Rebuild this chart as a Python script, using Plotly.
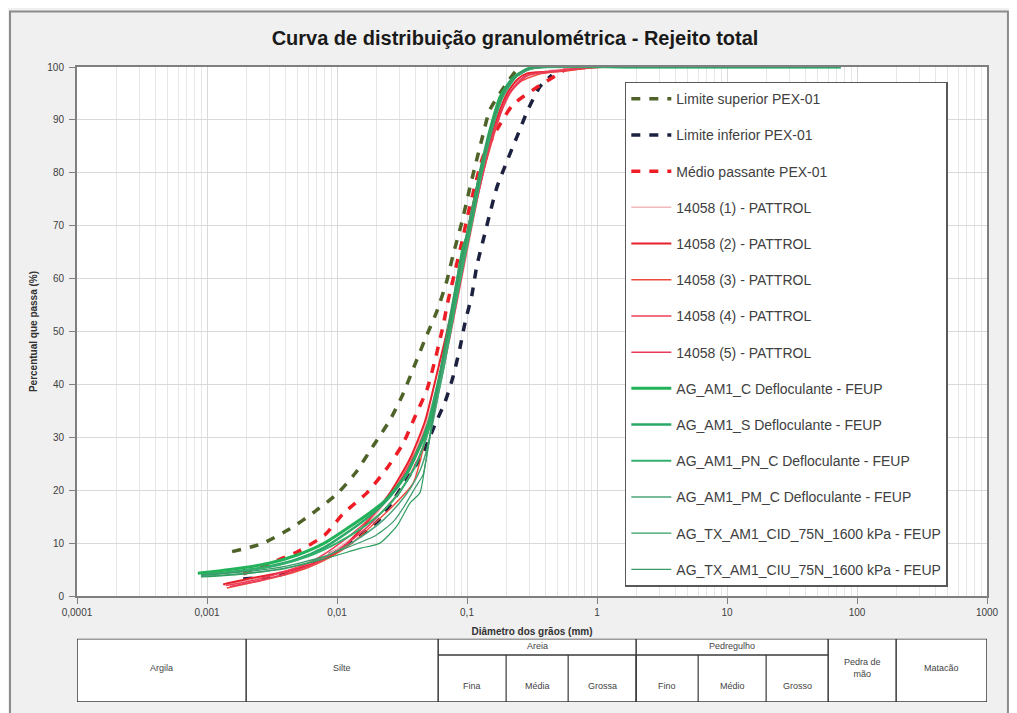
import math
import plotly.graph_objects as go

# ---------------- data ----------------
# PEX-01 limits (diameter mm, % passing)
sup_d = [0.00156, 0.00265, 0.00435, 0.00653, 0.01, 0.0138, 0.0189, 0.0256, 0.0322, 0.0398, 0.0475,
         0.0588, 0.070, 0.078, 0.0916, 0.1018, 0.115, 0.130, 0.150, 0.203, 0.25]
sup_p = [8.4, 9.9, 12.7, 15.7, 19.3, 23.2, 28.3, 33.3, 38.2, 43.8, 48.5,
         53.9, 59.6, 64.4, 70.8, 75.7, 81.1, 86.3, 91.9, 97.0, 100]

inf_d = [0.0019, 0.0038, 0.0093, 0.0143, 0.0214, 0.0365, 0.0459, 0.0567, 0.0678, 0.078, 0.0884, 0.0966,
         0.109, 0.119, 0.133, 0.150, 0.170, 0.203, 0.243, 0.294, 0.365, 0.45]
inf_p = [3.2, 4.1, 8.2, 10.9, 14.6, 23.0, 27.0, 32.4, 36.7, 41.4, 47.0, 51.7,
         56.9, 62.4, 67.2, 72.3, 77.3, 82.2, 86.9, 91.9, 96.3, 98.5]

med_d = [0.0019, 0.005, 0.0081, 0.0111, 0.017, 0.0243, 0.0322, 0.0398, 0.0492, 0.0567, 0.0643, 0.0715,
         0.0809, 0.0916, 0.102, 0.115, 0.133, 0.179, 0.226, 0.352, 0.52, 0.6]
med_p = [4.2, 8.4, 11.6, 15.5, 19.5, 24.2, 28.8, 33.9, 39.0, 44.6, 50.2, 55.8,
         61.4, 67.0, 72.3, 77.5, 83.1, 89.1, 92.9, 96.3, 98.9, 100]

# PATTROL samples
r1_d = [0.00135, 0.0022, 0.0035, 0.0055, 0.0085, 0.013, 0.02, 0.03, 0.042, 0.055, 0.075, 0.1, 0.125, 0.15,
        0.18, 0.25, 0.42, 0.6, 1.2, 2]
r1_p = [2.0, 3.2, 4.4, 5.8, 7.8, 11, 15.5, 21.5, 28.5, 37, 50, 65, 77, 85, 91, 97.5, 99.3, 99.6, 100, 100]
r2_d = [0.00133, 0.00222, 0.00352, 0.00538, 0.0081, 0.0109, 0.0158, 0.0256, 0.0365, 0.0475, 0.06, 0.075,
        0.09, 0.111, 0.1426, 0.1713, 0.203, 0.243, 0.29, 0.52, 1.0, 2.0]
r2_p = [2.2, 3.4, 4.3, 5.4, 7.1, 9.0, 13, 19.5, 26, 33, 43, 53, 62, 74, 84, 90.5, 95, 97.6, 98.8, 99.2, 100, 100]
r3_d = [0.00142, 0.0025, 0.004, 0.006, 0.009, 0.013, 0.0256, 0.0385, 0.0459, 0.055, 0.07, 0.09, 0.11, 0.14,
        0.17, 0.2, 0.25, 0.35, 0.6, 1.2, 2]
r3_p = [1.5, 2.8, 4.0, 5.4, 7.4, 10, 16.5, 21.3, 27.7, 36, 48, 62, 72, 82, 89, 94, 97, 98.6, 99.4, 100, 100]
r4_d = [0.0014, 0.0023, 0.0037, 0.006, 0.0093, 0.015, 0.022, 0.03, 0.04, 0.052, 0.065, 0.08, 0.1, 0.125,
        0.15, 0.18, 0.22, 0.3, 0.5, 1, 2]
r4_p = [2.0, 3.0, 4.4, 6.2, 9.0, 13, 17, 21.5, 27, 34, 44, 55, 67, 77, 85, 91, 95.5, 98.5, 99.3, 100, 100]
r5_d = [0.0015, 0.0025, 0.004, 0.0065, 0.01, 0.016, 0.024, 0.033, 0.043, 0.053, 0.066, 0.082, 0.1, 0.12,
        0.145, 0.175, 0.21, 0.28, 0.45, 1, 2]
r5_p = [1.8, 2.9, 4.2, 6.0, 8.6, 12.4, 16.8, 21, 26.5, 33, 43, 54.5, 65.5, 75, 84, 90.5, 95, 98.3, 99.2, 100, 100]

# FEUP samples
g1_d = [0.00085, 0.0015, 0.003, 0.005, 0.008, 0.012, 0.018, 0.0243, 0.0346, 0.0434, 0.052, 0.063, 0.075,
        0.093, 0.1, 0.126, 0.15, 0.18, 0.226, 0.29, 0.35, 2, 75]
g1_p = [4.3, 5.0, 6.2, 7.8, 10.0, 12.8, 15.8, 18.4, 23.2, 28.3, 32.6, 42, 52, 65.7, 68, 80, 88, 94.4, 97.9,
        99.6, 100, 100, 100]
g2_d = [0.0009, 0.0016, 0.003, 0.005, 0.008, 0.012, 0.018, 0.025, 0.033, 0.042, 0.05, 0.06, 0.075, 0.09,
        0.105, 0.125, 0.15, 0.18, 0.22, 0.28, 0.35, 2, 75]
g2_p = [3.9, 4.6, 5.6, 7.0, 9.2, 12.0, 15.2, 18.5, 22.5, 27.5, 32.5, 40.5, 52, 62.5, 70.5, 79.5, 87.5, 93.8,
        97.6, 99.4, 100, 100, 100]
g3_d = [0.0009, 0.0018, 0.0035, 0.006, 0.01, 0.015, 0.022, 0.03, 0.04, 0.048, 0.056, 0.066, 0.08, 0.095,
        0.11, 0.13, 0.155, 0.19, 0.24, 0.3, 0.4, 2, 75]
g3_p = [4.1, 4.7, 5.8, 7.5, 10.0, 12.6, 15.8, 19.5, 24.5, 29.5, 35, 43, 54, 63.5, 71, 80, 88, 94.5, 98.2,
        99.6, 100, 100, 100]
g4_d = [0.0009, 0.002, 0.004, 0.007, 0.011, 0.016, 0.023, 0.03, 0.037, 0.044, 0.05, 0.058, 0.07, 0.085,
        0.1, 0.12, 0.145, 0.18, 0.23, 0.3, 0.4, 2, 75]
g4_p = [3.7, 4.3, 5.2, 6.8, 9.0, 11.5, 14.5, 17.5, 20.5, 24, 28.5, 36, 47.5, 59.5, 68, 77.5, 86, 93.5, 97.8,
        99.5, 100, 100, 100]
g5_d = [0.0009, 0.002, 0.004, 0.008, 0.015, 0.0214, 0.029, 0.0365, 0.0434, 0.0475, 0.052, 0.06, 0.075,
        0.09, 0.11, 0.13, 0.16, 0.2, 0.26, 0.35, 2, 75]
g5_p = [3.6, 4.2, 5.3, 7.0, 9.0, 10.0, 13.3, 17.6, 19.5, 24.5, 30.1, 40, 52, 63, 72, 81, 90, 96, 99, 100,
        100, 100]
g6_d = [0.0009, 0.002, 0.004, 0.008, 0.013, 0.02, 0.027, 0.033, 0.04, 0.046, 0.05, 0.058, 0.07, 0.085,
        0.1, 0.125, 0.15, 0.19, 0.25, 0.35, 2, 75]
g6_p = [4.0, 4.6, 5.6, 7.5, 9.5, 11.5, 14, 17, 20.5, 23, 28, 38, 50, 61, 69, 80, 88, 95, 98.8, 100, 100, 100]

# axis ticks
x_tickvals = [0.0001, 0.001, 0.01, 0.1, 1, 10, 100, 1000]
x_ticktext = ["0,0001", "0,001", "0,01", "0,1", "1", "10", "100", "1000"]
y_tickvals = [0, 10, 20, 30, 40, 50, 60, 70, 80, 90, 100]

# ABNT NBR 6502/95 size classes (mm)
class_bounds = [0.0001, 0.002, 0.06, 2, 60, 200, 1000]
class_names = ["Argila", "Silte", "Areia", "Pedregulho", "Pedra de<br>mão", "Matacão"]
sub_bounds = [0.06, 0.2, 0.6, 2, 6, 20, 60]
sub_names = ["Fina", "Média", "Grossa", "Fino", "Médio", "Grosso"]

# ---------------- figure ----------------
# page body has an 8px margin: figure is placed at (8, 8) in the 1017x713 window
W, H = 1009, 705
FONT = "Arial, 'Liberation Sans', sans-serif"
fig = go.Figure()

series = [
    ("Limite superior PEX-01", sup_d, sup_p, "#4f6228", 3.5, "9px,9px"),
    ("Limite inferior PEX-01", inf_d, inf_p, "#1c2140", 3.5, "9px,9px"),
    ("Médio passante PEX-01", med_d, med_p, "#ee1c25", 3.5, "9px,9px"),
    ("14058 (1) - PATTROL", r1_d, r1_p, "#f2b8bc", 1.5, None),
    ("14058 (2) - PATTROL", r2_d, r2_p, "#e8202a", 2.0, None),
    ("14058 (3) - PATTROL", r3_d, r3_p, "#ef4a3c", 1.5, None),
    ("14058 (4) - PATTROL", r4_d, r4_p, "#ee3f55", 1.5, None),
    ("14058 (5) - PATTROL", r5_d, r5_p, "#ea3a5c", 1.5, None),
    ("AG_AM1_C Defloculante - FEUP", g1_d, g1_p, "#22b25a", 3.0, None),
    ("AG_AM1_S Defloculante - FEUP", g2_d, g2_p, "#2aa866", 2.5, None),
    ("AG_AM1_PN_C Defloculante - FEUP", g3_d, g3_p, "#33b06c", 2.0, None),
    ("AG_AM1_PM_C Defloculante - FEUP", g4_d, g4_p, "#4aa57a", 1.5, None),
    ("AG_TX_AM1_CID_75N_1600 kPa - FEUP", g5_d, g5_p, "#2e9e5e", 1.2, None),
    ("AG_TX_AM1_CIU_75N_1600 kPa - FEUP", g6_d, g6_p, "#3a9a68", 1.2, None),
]
for name, d, p, col, w, dash in series:
    fig.add_trace(go.Scatter(
        x=d, y=p, name=name, mode="lines", legendgroup=name,
        line=dict(color=col, width=w, dash=dash, shape="spline", smoothing=0.6),
        xaxis="x", yaxis="y"))

# minor grid positions (2..9 in each decade)
minor_vals = [m * 10.0 ** e for e in range(-4, 3) for m in range(2, 10)]

# ---------- classification table (drawn on a hidden linear log10 axis) ----------
SPLIT = 0.74   # height of the sub-row divider (fraction of table height)
shapes = []
line_c = "#3a3a3a"
lx = [math.log10(v) for v in class_bounds]
shapes.append(dict(type="rect", xref="x2", yref="y2", x0=lx[0], x1=lx[-1], y0=0, y1=1,
                   line=dict(color=line_c, width=1.5), fillcolor="rgba(0,0,0,0)"))
for v in lx[1:-1]:
    shapes.append(dict(type="line", xref="x2", yref="y2", x0=v, x1=v, y0=0, y1=1,
                       line=dict(color=line_c, width=1.5)))
ls = [math.log10(v) for v in sub_bounds]
shapes.append(dict(type="line", xref="x2", yref="y2", x0=ls[0], x1=ls[-1], y0=SPLIT, y1=SPLIT,
                   line=dict(color=line_c, width=1.5)))
for v in ls[1:-1]:
    shapes.append(dict(type="line", xref="x2", yref="y2", x0=v, x1=v, y0=0, y1=SPLIT,
                       line=dict(color=line_c, width=1.2)))

annotations = []
tfont = dict(family=FONT, size=9, color="#444444")
for i, nm in enumerate(class_names):
    cx = (lx[i] + lx[i + 1]) / 2
    cy = 0.88 if nm in ("Areia", "Pedregulho") else 0.53
    annotations.append(dict(x=cx, y=cy, xref="x2", yref="y2", text=nm, showarrow=False, font=tfont))
for i, nm in enumerate(sub_names):
    cx = (ls[i] + ls[i + 1]) / 2
    annotations.append(dict(x=cx, y=0.25, xref="x2", yref="y2", text=nm, showarrow=False, font=tfont))
annotations.append(dict(x=-4.27, y=0.53, xref="x2", yref="y2", text="<b>ABNT NBR<br>6502/95</b>",
                        showarrow=False, font=dict(family=FONT, size=5.5, color="#444444")))

# outer frame
shapes.append(dict(type="rect", xref="paper", yref="paper", x0=-0.0736, x1=1.023, y0=-0.05, y1=1.0872,
                   line=dict(color="#8c8c8c", width=2), fillcolor="rgba(0,0,0,0)", layer="below"))

fig.update_layout(
    width=W, height=H,
    margin=dict(l=69, r=30, t=59, b=4),
    paper_bgcolor="#f0f0f0", plot_bgcolor="white",
    font=dict(family=FONT, color="#404040", size=10),
    title=dict(text="<b>Curva de distribuição granulométrica - Rejeito total</b>",
               x=0.5025, xref="container", xanchor="center", y=0.957, yref="container", yanchor="middle",
               font=dict(family=FONT, size=20, color="#1a1a1a")),
    showlegend=True,
    legend=dict(x=0.602, y=0.977, xanchor="left", yanchor="top", bgcolor="white",
                bordercolor="#595959", borderwidth=1.5, traceorder="grouped", tracegroupgap=15,
                font=dict(family=FONT, size=14, color="#404040"), itemwidth=40,
                entrywidth=310, entrywidthmode="pixels"),
    xaxis=dict(type="log", range=[-4, 3], domain=[0, 1], anchor="y",
               tickmode="array", tickvals=x_tickvals, ticktext=x_ticktext,
               ticks="outside", ticklen=6, tickcolor="#7f7f7f",
               showline=True, linecolor="#7f7f7f", linewidth=2, mirror=True,
               showgrid=True, gridcolor="#d9d9d9", gridwidth=1, zeroline=False,
               minor=dict(tickmode="array", tickvals=minor_vals, showgrid=True, gridcolor="#e6e6e6",
                          gridwidth=1, ticks=""),
               tickfont=dict(size=10, color="#404040"),
               title=dict(text="<b>Diâmetro dos grãos (mm)</b>", standoff=11,
                          font=dict(size=10, color="#333333"))),
    yaxis=dict(range=[0, 100], domain=[0.1682, 1], anchor="x",
               tickmode="array", tickvals=y_tickvals,
               ticks="outside", ticklen=6, tickcolor="#7f7f7f", ticklabelstandoff=3,
               showline=True, linecolor="#7f7f7f", linewidth=2, mirror=True,
               showgrid=True, gridcolor="#d9d9d9", gridwidth=1, zeroline=False,
               tickfont=dict(size=10, color="#404040"),
               title=dict(text="<b>Percentual que passa (%)</b>", standoff=8,
                          font=dict(size=10, color="#333333"))),
    xaxis2=dict(range=[-4, 3], domain=[0, 1], anchor="y2", visible=False, fixedrange=True),
    yaxis2=dict(range=[0, 1], domain=[0.0016, 0.1012], anchor="x2", visible=False, fixedrange=True),
    shapes=shapes,
    annotations=annotations,
)

fig.write_html("out.html")
